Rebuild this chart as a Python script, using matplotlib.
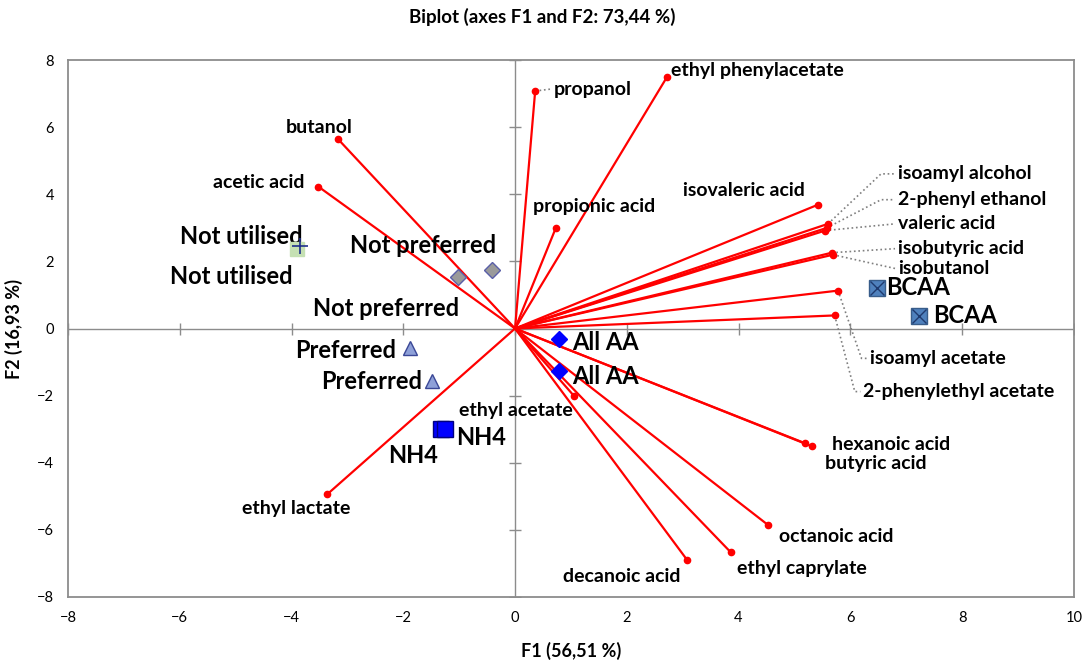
import matplotlib
matplotlib.use("Agg")
import matplotlib.pyplot as plt
import numpy as np

plt.rcParams['font.family'] = ['Lato', 'DejaVu Sans']

# variable loadings (F1, F2)
var_names = ["propanol", "ethyl phenylacetate", "butanol", "acetic acid",
             "propionic acid", "isovaleric acid", "isoamyl alcohol",
             "2-phenyl ethanol", "valeric acid", "isobutyric acid", "isobutanol",
             "isoamyl acetate", "2-phenylethyl acetate", "hexanoic acid",
             "butyric acid", "octanoic acid", "ethyl caprylate", "decanoic acid",
             "ethyl acetate", "ethyl lactate"]
var_f1 = [0.36, 2.72, -3.17, -3.52, 0.73, 5.42, 5.60, 5.58, 5.55, 5.67, 5.69,
          5.78, 5.72, 5.19, 5.31, 4.53, 3.86, 3.08, 1.06, -3.36]
var_f2 = [7.08, 7.50, 5.65, 4.23, 3.00, 3.69, 3.12, 3.00, 2.92, 2.26, 2.20,
          1.13, 0.39, -3.42, -3.51, -5.86, -6.67, -6.90, -2.02, -4.94]

# observation scores (F1, F2)
obs_groups = ["Not utilised", "Not utilised", "Not preferred", "Not preferred",
              "Preferred", "Preferred", "NH4", "NH4", "All AA", "All AA",
              "BCAA", "BCAA"]
obs_f1 = [-3.90, -3.85, -1.02, -0.41, -1.88, -1.48, -1.33, -1.25, 0.79, 0.79,
          6.48, 7.23]
obs_f2 = [2.38, 2.47, 1.55, 1.73, -0.57, -1.55, -3.00, -3.00, -0.30, -1.28,
          1.22, 0.36]

# label anchor (left edge, centre) for each variable
var_label_pos = [(0.70, 7.14), (2.79, 7.68), (-4.11, 6.00), (-5.40, 4.35),
                 (0.32, 3.63), (3.00, 4.10), (6.85, 4.61), (6.85, 3.84),
                 (6.85, 3.12), (6.85, 2.38), (6.85, 1.79), (6.35, -0.89),
                 (6.23, -1.88), (5.67, -3.45), (5.55, -4.02), (4.72, -6.19),
                 (3.97, -7.14), (0.86, -7.38), (-1.00, -2.44), (-4.88, -5.36)]
# labels connected to their point with a dotted leader
leader_names = {"propanol", "isoamyl alcohol", "2-phenyl ethanol", "valeric acid",
                "isobutyric acid", "isobutanol", "isoamyl acetate",
                "2-phenylethyl acetate"}
obs_label_pos = [(-5.99, 2.74), (-6.17, 1.55), (-2.95, 2.47), (-3.61, 0.60),
                 (-3.94, -0.65), (-3.47, -1.58), (-1.06, -3.24), (-2.27, -3.78),
                 (1.02, -0.42), (1.02, -1.43), (6.64, 1.22), (7.48, 0.39)]

fig = plt.figure(figsize=(10.85, 6.61), dpi=100)
ax = fig.add_axes([0.0627, 0.097, 0.927, 0.812])
ax.set_xlim(-8, 10)
ax.set_ylim(-8, 8)

for s in ax.spines.values():
    s.set_color('#8c8c8c')
    s.set_linewidth(1.3)
ax.tick_params(length=0, labelsize=10.5, pad=10)
ax.set_xticks(np.arange(-8, 11, 2))
ax.set_yticks(np.arange(-8, 9, 2))

# centre axes with small tick marks
ax.axhline(0, color='#8c8c8c', lw=1, zorder=1)
ax.axvline(0, color='#8c8c8c', lw=1, zorder=1)
xt = np.arange(-8, 11, 2)
yt = np.arange(-8, 9, 2)
ax.plot(xt, np.zeros_like(xt), ls='none', marker='|', ms=9, color='#8c8c8c', mew=1, zorder=1)
ax.plot(np.zeros_like(yt), yt, ls='none', marker='_', ms=9, color='#8c8c8c', mew=1, zorder=1)

# loading vectors
for name, x, y, (lx, ly) in zip(var_names, var_f1, var_f2, var_label_pos):
    ax.plot([0, x], [0, y], color='red', lw=1.6, zorder=3)
    ax.plot(x, y, 'o', color='red', ms=4.5, zorder=4)
    if name in leader_names:
        if abs(ly - y) > 0.5:
            if lx > x + 0.8:
                # bend then run across to the label
                ax.plot([x, lx - 0.3, lx - 0.05], [y, ly, ly], ls=':', color='#7f7f7f', lw=1.2, zorder=2)
            else:
                ax.plot([x, lx - 0.15, lx - 0.05], [y, ly, ly], ls=':', color='#7f7f7f', lw=1.2, zorder=2)
        else:
            ax.plot([x, lx - 0.05], [y, ly], ls=':', color='#7f7f7f', lw=1.2, zorder=2)
    ax.text(lx, ly, name, fontsize=14, fontweight='bold', ha='left', va='center', zorder=5)

# observation markers
styles = {
    "Not utilised": [dict(marker='s', ms=10, mfc='#c5e0b3', mec='#c5e0b3'),
                     dict(marker='+', ms=12, mec='#1f2f8c', mew=1.2)],
    "Not preferred": [dict(marker='D', ms=8, mfc='#9a9a9a', mec='#5a5fa8', mew=1)] * 2,
    "Preferred": [dict(marker='^', ms=10, mfc='#8ea0d8', mec='#3a4796', mew=1)] * 2,
    "NH4": [dict(marker='s', ms=12, mfc='#0000ff', mec='#000080', mew=1)] * 2,
    "All AA": [dict(marker='D', ms=8, mfc='#0000ff', mec='#0000ff')] * 2,
    "BCAA": [dict(marker='s', ms=11, mfc='#4f81bd', mec='#385d8a', mew=1)] * 2,
}
seen = {}
for g, x, y, (lx, ly) in zip(obs_groups, obs_f1, obs_f2, obs_label_pos):
    i = seen.get(g, 0)
    seen[g] = i + 1
    ax.plot(x, y, ls='none', zorder=6, **styles[g][i])
    if g == "BCAA":
        ax.plot(x, y, ls='none', marker='x', ms=10, mec='#1f3a6e', mew=1, zorder=7)
    ax.text(lx, ly, g, fontsize=17, fontweight='bold', ha='left', va='center', zorder=5)

fig.text(0.5, 0.974, "Biplot (axes F1 and F2: 73,44 %)", fontsize=13.5,
         fontweight='bold', ha='center', va='center')
ax.set_xlabel("F1 (56,51 %)", fontsize=13, fontweight='bold', labelpad=12)
ax.set_ylabel("F2 (16,93 %)", fontsize=13, fontweight='bold', labelpad=10)

fig.savefig("out.png", dpi=100)
